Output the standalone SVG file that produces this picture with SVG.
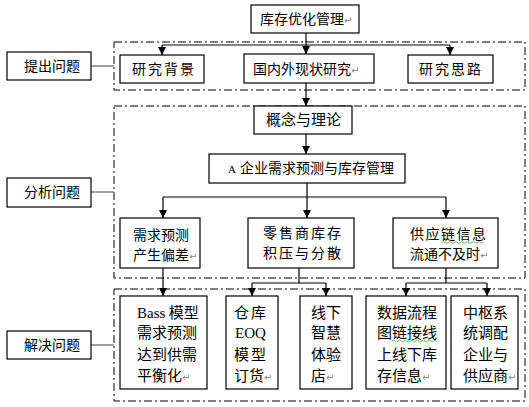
<svg xmlns="http://www.w3.org/2000/svg" width="529" height="407" viewBox="0 0 529 407">
<style>
.box{fill:#fff;stroke:#000;stroke-width:1.2}
.grp{fill:none;stroke:#000;stroke-width:1;stroke-dasharray:8 3 2 3}
.t{font-family:"Noto Sans CJK SC","Liberation Sans",sans-serif;font-size:14px;fill:#000}
.t15{font-family:"Noto Sans CJK SC","Liberation Sans",sans-serif;font-size:15px;fill:#000}
.ser{font-family:"Liberation Serif","Noto Sans CJK SC",serif}
.ret{font-family:"DejaVu Sans",sans-serif;font-size:10px;fill:#888}
.ln{fill:none;stroke:#000;stroke-width:1.2}
.side{fill:none;stroke:#808080;stroke-width:1.5}
.wav{fill:none;stroke:#3a3;stroke-width:0.8}
</style>
<defs>
<marker id="ah" markerUnits="userSpaceOnUse" markerWidth="8" markerHeight="8" viewBox="0 0 8 8" refX="8" refY="4" orient="auto">
<path d="M0,0 L8,4 L0,8 Z" fill="#000"/>
</marker>
</defs>

<g id="groups">
<rect id="grp-ask" class="grp" x="114" y="42" width="411" height="48"/>
<rect id="grp-analyze" class="grp" x="114" y="106" width="411" height="172"/>
<rect id="grp-solve" class="grp" x="114" y="289" width="411" height="112"/>
</g>

<g id="connectors">
<path class="side" d="M91,66 H114 M91,192 H114 M91,345 H114"/>
<path class="ln" d="M306,33 V45 M162,45 H450"/>
<path class="ln" d="M162,45 V55" marker-end="url(#ah)"/>
<path class="ln" d="M306,45 V54" marker-end="url(#ah)"/>
<path class="ln" d="M450,45 V55" marker-end="url(#ah)"/>
<path class="ln" d="M306,83 V106" marker-end="url(#ah)"/>
<path class="ln" d="M306,134 V154" marker-end="url(#ah)"/>
<path class="ln" d="M307,183 V197 M163,197 H446"/>
<path class="ln" d="M163,197 V218" marker-end="url(#ah)"/>
<path class="ln" d="M307,197 V218" marker-end="url(#ah)"/>
<path class="ln" d="M446,197 V218" marker-end="url(#ah)"/>
<path class="ln" d="M163,268 V296" marker-end="url(#ah)"/>
<path class="ln" d="M299,268 V283 M252,283 H326"/>
<path class="ln" d="M252,283 V296" marker-end="url(#ah)"/>
<path class="ln" d="M326,283 V296" marker-end="url(#ah)"/>
<path class="ln" d="M446,268 V283 M406,283 H487"/>
<path class="ln" d="M406,283 V296" marker-end="url(#ah)"/>
<path class="ln" d="M487,283 V296" marker-end="url(#ah)"/>
</g>

<g id="n-top">
<rect class="box" x="251" y="5" width="108" height="28"/>
<text class="t" x="260" y="24">库存优化管理<tspan class="ret">↵</tspan></text>
</g>

<g id="n-ask">
<rect class="box" x="7" y="52" width="84" height="28"/>
<text class="t" x="24" y="71">提出问题</text>
</g>
<g id="n-analyze">
<rect class="box" x="7" y="178" width="84" height="29"/>
<text class="t" x="24" y="197">分析问题</text>
</g>
<g id="n-solve">
<rect class="box" x="7" y="331" width="84" height="28"/>
<text class="t" x="24" y="350">解决问题</text>
</g>

<g id="n-bg">
<rect class="box" x="120" y="55" width="84" height="28"/>
<text class="t" x="132" y="74" letter-spacing="2">研究背景</text>
</g>
<g id="n-status">
<rect class="box" x="244" y="54" width="130" height="29"/>
<text class="t" x="253" y="74">国内外现状研究<tspan class="ret">↵</tspan></text>
</g>
<g id="n-idea">
<rect class="box" x="408" y="55" width="85" height="28"/>
<text class="t" x="419" y="74" letter-spacing="2">研究思路</text>
</g>

<g id="n-concept">
<rect class="box" x="254" y="106" width="98" height="28"/>
<text class="t15" x="266" y="125">概念与理论</text>
</g>
<g id="n-a">
<rect class="box" x="209" y="154" width="196" height="29"/>
<text class="t" x="228" y="173"><tspan class="ser" font-size="11">A</tspan><tspan x="240">企业需求预测与库存管理</tspan></text>
</g>

<g id="n-dev">
<rect class="box" x="120" y="218" width="80" height="50"/>
<text class="t" x="133" y="240">需求预测</text>
<text class="t" x="133" y="260">产生偏差<tspan class="ret">↵</tspan></text>
</g>
<g id="n-retail">
<rect class="box" x="248" y="218" width="106" height="50"/>
<text class="t" x="263" y="238" letter-spacing="2">零售商库存</text>
<text class="t" x="263" y="258" letter-spacing="2">积压与分散</text>
</g>
<g id="n-info">
<rect class="box" x="393" y="218" width="105" height="50"/>
<text class="t" x="410" y="239" letter-spacing="1.5">供应链信息</text>
<path class="wav" d="M442,242.5 q1.5,-1.5 3,0 t3,0 t3,0 t3,0 t3,0 t3,0 t3,0 t3,0 t3,0 t3,0 t3,0 t3,0 t3,0 t3,0"/>
<text class="t" x="410" y="259">流通不及时<tspan class="ret">↵</tspan></text>
</g>

<g id="n-bass">
<rect class="box" x="120" y="296" width="87" height="93"/>
<text class="t15" x="137" y="318"><tspan class="ser">Bass</tspan> 模型</text>
<text class="t15" x="137" y="338">需求预测</text>
<text class="t15" x="137" y="360">达到供需</text>
<text class="t15" x="137" y="381">平衡化<tspan class="ret">↵</tspan></text>
</g>
<g id="n-eoq">
<rect class="box" x="226" y="296" width="52" height="93"/>
<text class="t15" x="234" y="318" letter-spacing="2">仓库</text>
<text class="t15 ser" x="235" y="338">EOQ</text>
<text class="t15" x="234" y="360" letter-spacing="2">模型</text>
<text class="t15" x="234" y="381">订货<tspan class="ret">↵</tspan></text>
</g>
<g id="n-store">
<rect class="box" x="300" y="296" width="52" height="93"/>
<text class="t15" x="311" y="318">线下</text>
<text class="t15" x="311" y="338">智慧</text>
<text class="t15" x="311" y="360">体验</text>
<text class="t15" x="311" y="381">店<tspan class="ret">↵</tspan></text>
</g>
<g id="n-flow">
<rect class="box" x="366" y="296" width="80" height="93"/>
<text class="t15" x="377" y="318">数据流程</text>
<text class="t15" x="377" y="338">图链接线</text>
<path class="wav" d="M392,341 q1.5,-1.5 3,0 t3,0 t3,0 t3,0 t3,0 t3,0 t3,0 t3,0 t3,0 t3,0 t3,0 t3,0 t3,0 t3,0 t3,0"/>
<text class="t15" x="377" y="360">上线下库</text>
<text class="t15" x="377" y="381">存信息<tspan class="ret">↵</tspan></text>
</g>
<g id="n-hub">
<rect class="box" x="451" y="296" width="67" height="93"/>
<text class="t15" x="463" y="318">中枢系</text>
<text class="t15" x="463" y="338">统调配</text>
<text class="t15" x="463" y="360">企业与</text>
<text class="t15" x="463" y="381">供应商<tspan class="ret">↵</tspan></text>
</g>
</svg>
